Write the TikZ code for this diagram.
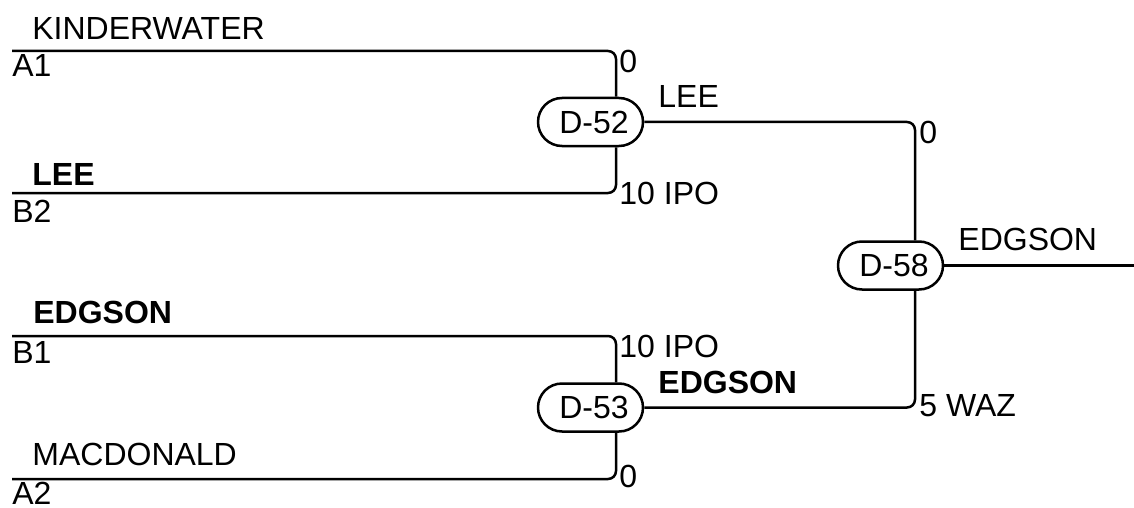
\documentclass[tikz,border=0pt]{standalone}
\usepackage{fontspec}
\setmainfont{Liberation Sans}
\usetikzlibrary{calc}
\begin{document}
\begin{tikzpicture}[x=0.5pt,y=-0.5pt,
  wire/.style={line width=1.25pt,rounded corners=4pt},
  game/.style={draw,line width=1.25pt,rounded corners=12pt,minimum width=52.5pt,minimum height=24pt,inner sep=0pt,font=\fontsize{16}{19}\selectfont},
  lbl/.style={anchor=base west,inner sep=0pt,font=\fontsize{16}{19}\selectfont},
  blbl/.style={lbl,font=\fontsize{16}{19}\selectfont\bfseries}]
\useasboundingbox (0,0) rectangle (1134,508);
% game nodes
\node[game] (d52) at (590.5,122) {\hspace{3.5pt}D-52};
\node[game] (d53) at (590.5,407.5) {\hspace{3.5pt}D-53};
\node[game] (d58) at (890.5,265.5) {\hspace{3.5pt}D-58};
% attach points
\coordinate (d52t) at ($(d52.north)+(25.5,0)$);
\coordinate (d52b) at ($(d52.south)+(25.5,0)$);
\coordinate (d53t) at ($(d53.north)+(25.5,0)$);
\coordinate (d53b) at ($(d53.south)+(25.5,0)$);
\coordinate (d58t) at ($(d58.north)+(24.5,0)$);
\coordinate (d58b) at ($(d58.south)+(24.5,0)$);
% line starts
\coordinate (a1) at (12,51);
\coordinate (b2) at (12,193);
\coordinate (b1) at (12,336);
\coordinate (a2) at (12,479);
\coordinate (out) at (1134,265.5);
% wires
\draw[wire] (a1) -| (d52t);
\draw[wire] (b2) -| (d52b);
\draw[wire] (b1) -| (d53t);
\draw[wire] (a2) -| (d53b);
\draw[wire] (d52.east) -| (d58t);
\draw[wire] (d53.east) -| (d58b);
\draw[wire] (d58.east) -- (out);
% left labels
\node[lbl] (n1) at (32,40) {KINDERWATER};
\node[lbl] (s1) at (12,77) {A1};
\node[blbl] (n2) at (32,185) {LEE};
\node[lbl] (s2) at (12,222) {B2};
\node[blbl] (n3) at (33,323) {EDGSON};
\node[lbl] (s3) at (12,363) {B1};
\node[lbl] (n4) at (32,465) {MACDONALD};
\node[lbl] (s4) at (12,504.5) {A2};
% scores and winners
\node[lbl] (sc1) at (619,73) {0};
\node[lbl] (sc2) at (619,204) {10 IPO};
\node[lbl] (w52) at (658,108) {LEE};
\node[lbl] (sc3) at (619,357) {10 IPO};
\node[lbl] (sc4) at (619,487) {0};
\node[blbl] (w53) at (658,393) {EDGSON};
\node[lbl] (sc5) at (919,143) {0};
\node[lbl] (sc6) at (919,416) {5 WAZ};
\node[lbl] (w58) at (958,250) {EDGSON};
\end{tikzpicture}
\end{document}
